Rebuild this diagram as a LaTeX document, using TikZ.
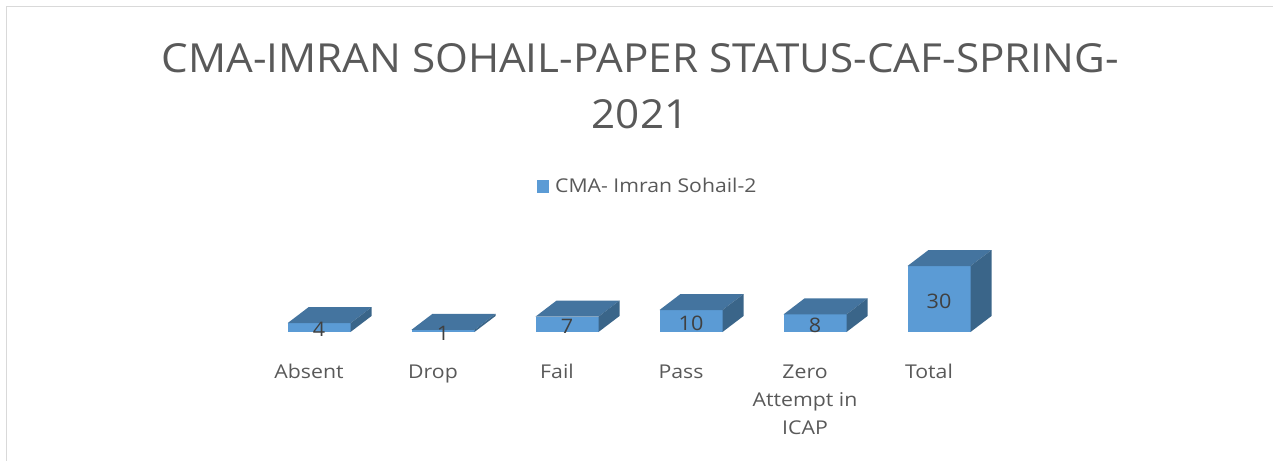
\documentclass[tikz,border=0pt]{standalone}
\usepackage{fontspec}
\setmainfont{Open Sans}
\definecolor{barfront}{HTML}{5B9BD5}
\definecolor{bartop}{HTML}{44749F}
\definecolor{barside}{HTML}{3A6589}
\definecolor{chartgray}{HTML}{595959}
\definecolor{valgray}{HTML}{404040}
\definecolor{framegray}{HTML}{D9D9D9}

\begin{document}
\begin{tikzpicture}[x=1pt,y=-1pt,
    titletext/.style={anchor=base,text=chartgray,align=center,xscale=1.055,font=\fontsize{40}{56}\selectfont},
    catlabel/.style={anchor=base,text=chartgray,align=center,xscale=1.12,font=\fontsize{19}{28}\selectfont},
    vallabel/.style={text=valgray,xscale=1.08,font=\fontsize{20}{22}\selectfont},
    legendtext/.style={anchor=base west,text=chartgray,xscale=1.115,font=\fontsize{19}{22}\selectfont}]
        \useasboundingbox (0,0) rectangle (1273,460);
        \draw[framegray,line width=1.3pt] (6.5,6.5) rectangle (1285,475);

        \node[titletext] (title) at (640,128) {CMA-IMRAN SOHAIL-PAPER STATUS-CAF-SPRING-\\2021};

        \fill[barfront] (537,180) rectangle (549,193);
        \node[legendtext,inner sep=0pt] (legend) at (555,192.5) {CMA- Imran Sohail-2};

        \foreach \v/\name/\ly [count=\i from 0] in {4/Absent/378,1/Drop/378,7/Fail/378,10/Pass/378,8/{Zero\\Attempt in\\ICAP}/434,30/Total/378} {
            \pgfmathsetmacro{\cx}{319+124*\i}
            \pgfmathsetmacro{\ty}{332-2.2*\v}
            \fill[barfront] (\cx-31.5,332) rectangle (\cx+31.5,\ty);
            \fill[bartop] (\cx-31.5,\ty) -- ++(21,-16) -- ++(63,0) -- (\cx+31.5,\ty) -- cycle;
            \fill[barside] (\cx+31.5,\ty) -- ++(21,-16) -- ++(0,2.2*\v) -- (\cx+31.5,332) -- cycle;
            \node[vallabel] (val\i) at (\cx,{(332+\ty)/2+2}) {\v};
            \node[catlabel] (cat\i) at (\cx-10,\ly) {\name};
        }
    \end{tikzpicture}
\end{document}
